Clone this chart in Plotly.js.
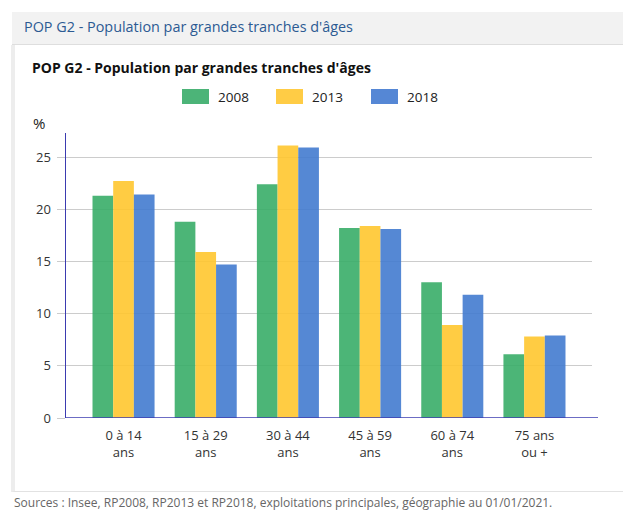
<!DOCTYPE html>
<html>
<head>
<meta charset="utf-8">
<script src="https://cdn.plot.ly/plotly-3.0.1.min.js"></script>
<style>
  html, body { margin:0; padding:0; background:#ffffff; }
  #wrap { position:relative; width:623px; height:511px; overflow:hidden; font-family:"Open Sans", sans-serif; }
  #hdr { position:absolute; left:12px; top:12px; width:611px; height:32px; background:#f2f2f2; border-bottom:1px solid #dedede; }
  #hdr span { position:absolute; left:12px; top:5px; font-size:14.4px; color:#2c5a92; white-space:nowrap; }
  #card { position:absolute; left:11px; top:45px; width:612px; height:446px; border-left:4px solid #ededed; border-bottom:1px solid #e2e2e2; background:#ffffff; }
  #src { position:absolute; left:14px; top:495px; font-size:12px; line-height:15px; color:#666; white-space:nowrap; }
  #chart { position:absolute; left:0; top:0; width:623px; height:511px; }
</style>
</head>
<body>
<div id="wrap">
  <div id="hdr"><span>POP G2 - Population par grandes tranches d'âges</span></div>
  <div id="card"></div>
  <div id="src">Sources : Insee, RP2008, RP2013 et RP2018, exploitations principales, géographie au 01/01/2021.</div>
  <div id="chart"></div>
</div>
<script>
const categories = ["0 à 14<br>ans", "15 à 29<br>ans", "30 à 44<br>ans", "45 à 59<br>ans", "60 à 74<br>ans", "75 ans<br>ou +"];
const seriesNames = ["2008", "2013", "2018"];
const values2008 = [21.3, 18.8, 22.4, 18.2, 13.0, 6.1];
const values2013 = [22.7, 15.9, 26.1, 18.4, 8.9, 7.8];
const values2018 = [21.4, 14.7, 25.9, 18.1, 11.8, 7.9];
const yTicks = [0, 5, 10, 15, 20, 25];

const colors = ["rgba(56,173,104,0.9)", "rgba(255,198,47,0.9)", "rgba(66,123,207,0.9)"];
const legendColors = ["#4cb478", "#ffcc45", "#5587d5"];
const allValues = [values2008, values2013, values2018];

const traces = seriesNames.map((n, i) => ({
  type: "bar",
  name: n,
  x: categories,
  y: allValues[i],
  marker: { color: colors[i], line: { width: 0 } },
  hoverinfo: "y+name"
}));

// plot area in px
const L = 66, R = 592, T = 133, B = 418, W = 623, H = 511;
const px = x => (x - L) / (R - L);
const py = y => (B - y) / (B - T);

const shapes = [];
const annotations = [];
// custom legend
const legBoxX = [182, 276, 371];
seriesNames.forEach((n, i) => {
  shapes.push({ type: "rect", xref: "paper", yref: "paper",
    x0: px(legBoxX[i]), x1: px(legBoxX[i] + 27), y0: py(104), y1: py(89),
    fillcolor: legendColors[i], line: { width: 0 } });
  annotations.push({ xref: "paper", yref: "paper", x: px(legBoxX[i] + 34), y: py(96.5),
    xanchor: "left", yanchor: "middle", text: n, showarrow: false,
    font: { family: "Open Sans", size: 13.5, color: "#222" } });
});
// % label
annotations.push({ xref: "paper", yref: "paper", x: px(31), y: py(123), xanchor: "left", yanchor: "middle",
  text: "%", showarrow: false, font: { family: "Open Sans", size: 15, color: "#222" } });
// x axis line extending past plot
shapes.push({ type: "line", xref: "paper", yref: "y", x0: 0, x1: px(598), y0: 0, y1: 0,
  line: { color: "#3b3bb0", width: 1.5 }, layer: "above" });

const layout = {
  width: W, height: H,
  paper_bgcolor: "rgba(0,0,0,0)", plot_bgcolor: "rgba(0,0,0,0)",
  margin: { l: L, r: W - R, t: T, b: H - B, pad: 0 },
  font: { family: "Open Sans", color: "#222" },
  title: { text: "<b>POP G2 - Population par grandes tranches d'âges</b>", xref: "container", yref: "container",
    x: 32 / W, xanchor: "left", y: 1 - 68 / H, yanchor: "middle",
    font: { family: "Open Sans", size: 14, color: "#111" } },
  showlegend: false,
  barmode: "group", bargap: 0.245, bargroupgap: 0,
  xaxis: { type: "category", range: [-0.7, 5.7], showline: false, showgrid: false, zeroline: false,
    ticks: "", ticklabelstandoff: 8, tickfont: { family: "Open Sans", size: 13, color: "#333" }, fixedrange: true },
  yaxis: { range: [0, 27.3], tickvals: yTicks, ticktext: yTicks.map(String),
    showgrid: true, gridcolor: "#cccccc", gridwidth: 1, zeroline: false,
    showline: true, linecolor: "#3b3bb0", linewidth: 1.5,
    ticks: "outside", ticklen: 8, tickcolor: "#cccccc", ticklabelstandoff: 3,
    tickfont: { family: "Open Sans", size: 13, color: "#333" }, fixedrange: true },
  shapes: shapes, annotations: annotations
};
Plotly.newPlot("chart", traces, layout, { displayModeBar: false, staticPlot: true });
</script>
</body>
</html>
